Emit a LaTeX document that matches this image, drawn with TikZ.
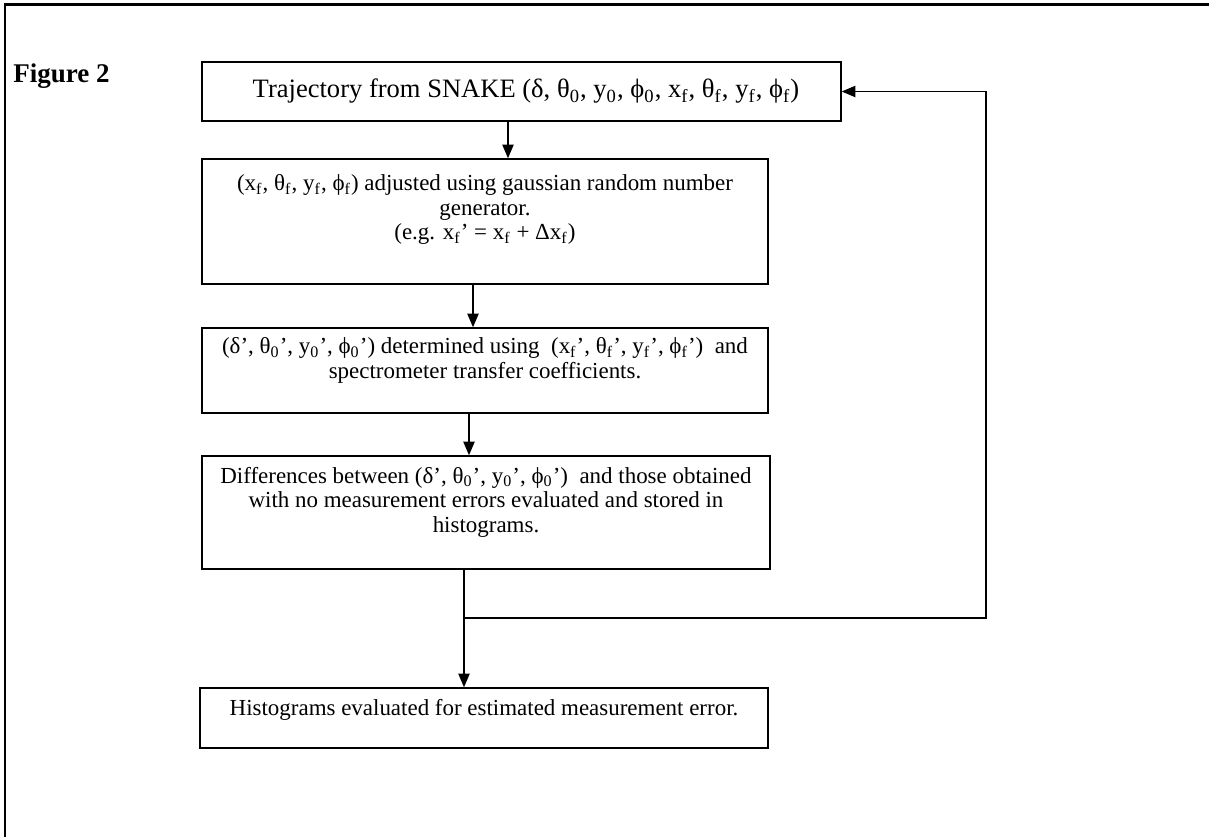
\documentclass[tikz,border=0pt]{standalone}
\usepackage{fontspec}
\setmainfont{Liberation Serif}
\usetikzlibrary{arrows.meta,positioning,fit}

\tikzset{
  box/.style={draw, line width=0.7pt, inner sep=0pt},
  txt/.style={align=center, inner sep=0pt, font=\fontsize{10.2}{11}\selectfont},
  arr/.style={-{Triangle[length=6pt,width=5pt]}, line width=0.55pt},
  frame/.style={line width=1.2pt}
}

\begin{document}
\begin{tikzpicture}[x=0.4444pt, y=-0.4444pt]
  \useasboundingbox (0,0) rectangle (1209,837);
  \draw[frame] (5,837) -- (5,4.5) -- (1209,4.5);
  \node[anchor=base west, inner sep=0pt, font=\bfseries\fontsize{12}{14}\selectfont] (fig) at (13,83) {Figure 2};
  % boxes
  \node[box, fit={(202,62) (841,121)}] (traj) {};
  \node[box, fit={(202,159) (768,284)}] (adj) {};
  \node[box, fit={(202,328) (768,413)}] (det) {};
  \node[box, fit={(202,456) (770,569)}] (diff) {};
  \node[box, fit={(200,688) (768,748)}] (hist) {};
  % texts
  \node[txt, font=\fontsize{11.8}{14}\selectfont] (trajtxt) at ([xshift=2pt]traj.center) {Trajectory from SNAKE (δ, θ\textsubscript{0}, y\textsubscript{0}, ϕ\textsubscript{0}, x\textsubscript{f}, θ\textsubscript{f}, y\textsubscript{f}, ϕ\textsubscript{f})};
  \node[txt, below=7pt of adj.north] (adjtxt) {(x\textsubscript{f}, θ\textsubscript{f}, y\textsubscript{f}, ϕ\textsubscript{f}) adjusted using gaussian random number\\ generator.\\ (e.g. x\textsubscript{f}’ = x\textsubscript{f} + Δx\textsubscript{f})};
  \node[txt, below=4.5pt of det.north] (dettxt) {(δ’, θ\textsubscript{0}’, y\textsubscript{0}’, ϕ\textsubscript{0}’) determined using \ (x\textsubscript{f}’, θ\textsubscript{f}’, y\textsubscript{f}’, ϕ\textsubscript{f}’) \ and\\ spectrometer transfer coefficients.};
  \node[txt, below=5pt of diff.north] (difftxt) {Differences between (δ’, θ\textsubscript{0}’, y\textsubscript{0}’, ϕ\textsubscript{0}’) \ and those obtained\\ with no measurement errors evaluated and stored in\\ histograms.};
  \node[txt, below=5pt of hist.north] (histtxt) {Histograms evaluated for estimated measurement error.};
  % arrows
  \coordinate (split) at (464,618);
  \draw[arr] (traj.south -| 508,0) -- (adj.north -| 508,0);
  \draw[arr] (adj.south -| 473,0) -- (det.north -| 473,0);
  \draw[arr] (det.south -| 469,0) -- (diff.north -| 469,0);
  \draw[arr] (diff.south -| split) -- (hist.north -| split);
  \draw[arr] (split) -- ++(522,0) |- (traj.east);
\end{tikzpicture}
\end{document}
